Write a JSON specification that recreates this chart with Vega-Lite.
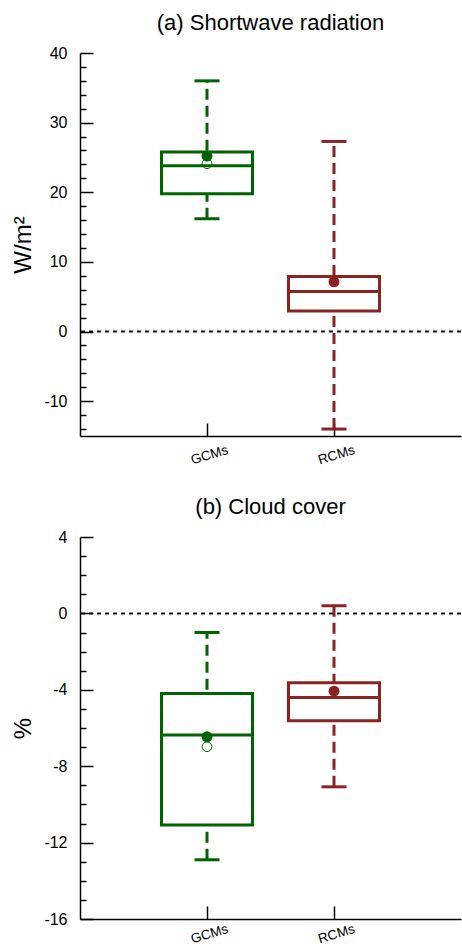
{
  "$schema": "https://vega.github.io/schema/vega-lite/v6.json",
  "padding": {"left": 11, "top": 11, "right": 0, "bottom": 0},
  "spacing": 28,
  "config": {
    "view": {"stroke": null},
    "font": "Liberation Sans",
    "title": {"fontSize": 22, "fontWeight": "normal", "color": "black", "anchor": "middle", "offset": 10.5},
    "axis": {
      "domainColor": "black", "domainWidth": 1.5, "tickColor": "black", "tickWidth": 1.5,
      "labelColor": "black", "titleColor": "black", "grid": false,
      "labelFont": "Liberation Sans", "titleFont": "Liberation Sans", "titleFontWeight": "normal"
    }
  },
  "vconcat": [
    {
      "title": "(a) Shortwave radiation",
      "width": 381,
      "height": 383,
      "data": {"values": [
        {"model": "GCMs", "lower": 16.2, "q1": 19.8, "median": 23.8, "q3": 25.8, "upper": 36.0, "mean": 25.2, "mean2": 24.1},
        {"model": "RCMs", "lower": -14.0, "q1": 2.95, "median": 5.75, "q3": 7.9, "upper": 27.3, "mean": 7.15, "mean2": null}
      ]},
      "layer": [
        {"mark": {"type": "rule", "strokeDash": [4, 4], "strokeWidth": 1.5, "color": "black"},
         "encoding": {"y": {"datum": 0, "type": "quantitative", "scale": {"domain": [-15, 40], "nice": false, "zero": false},
           "axis": {"title": "W/m²", "titleFontSize": 24, "titlePadding": 8, "labelFontSize": 16, "labelPadding": 26, "tickCount": 100,
             "values": [-14, -12, -10, -8, -6, -4, -2, 0, 2, 4, 6, 8, 10, 12, 14, 16, 18, 20, 22, 24, 26, 28, 30, 32, 34, 36, 38, 40],
             "labelExpr": "datum.value % 10 === 0 ? '' + datum.value : ''",
             "tickSize": {"condition": {"test": "datum.value % 10 === 0", "value": -13}, "value": -6}}}}},
        {"mark": {"type": "rule", "strokeDash": [11, 6], "strokeWidth": 3},
         "encoding": {
           "x": {"field": "model", "type": "nominal", "scale": {"type": "point", "padding": 1, "domain": ["GCMs", "RCMs"]},
             "axis": {"title": null, "labelAngle": -17, "labelAlign": "center", "labelBaseline": "top", "labelFontSize": 13.5, "tickSize": -13, "labelPadding": 25}},
           "y": {"field": "lower", "type": "quantitative"}, "y2": {"field": "upper"},
           "stroke": {"field": "model", "type": "nominal", "scale": {"domain": ["GCMs", "RCMs"], "range": ["#006400", "#8B2323"]}, "legend": null}}},
        {"mark": {"type": "bar", "width": 91, "fill": "white", "strokeWidth": 3},
         "encoding": {"x": {"field": "model", "type": "nominal"},
           "y": {"field": "q1", "type": "quantitative"}, "y2": {"field": "q3"},
           "stroke": {"field": "model", "type": "nominal", "scale": {"domain": ["GCMs", "RCMs"], "range": ["#006400", "#8B2323"]}, "legend": null}}},
        {"mark": {"type": "tick", "size": 91, "thickness": 3, "opacity": 1},
         "encoding": {"x": {"field": "model", "type": "nominal"},
           "y": {"field": "median", "type": "quantitative"},
           "color": {"field": "model", "type": "nominal", "scale": {"domain": ["GCMs", "RCMs"], "range": ["#006400", "#8B2323"]}, "legend": null}}},
        {"mark": {"type": "tick", "size": 25, "thickness": 3, "opacity": 1},
         "encoding": {"x": {"field": "model", "type": "nominal"},
           "y": {"field": "lower", "type": "quantitative"},
           "color": {"field": "model", "type": "nominal", "scale": {"domain": ["GCMs", "RCMs"], "range": ["#006400", "#8B2323"]}, "legend": null}}},
        {"mark": {"type": "tick", "size": 25, "thickness": 3, "opacity": 1},
         "encoding": {"x": {"field": "model", "type": "nominal"},
           "y": {"field": "upper", "type": "quantitative"},
           "color": {"field": "model", "type": "nominal", "scale": {"domain": ["GCMs", "RCMs"], "range": ["#006400", "#8B2323"]}, "legend": null}}},
        {"mark": {"type": "point", "filled": false, "size": 95, "strokeWidth": 1, "opacity": 1},
         "encoding": {"x": {"field": "model", "type": "nominal"},
           "y": {"field": "mean2", "type": "quantitative"},
           "stroke": {"field": "model", "type": "nominal", "scale": {"domain": ["GCMs", "RCMs"], "range": ["#006400", "#8B2323"]}, "legend": null}}},
        {"mark": {"type": "circle", "size": 120, "opacity": 1},
         "encoding": {"x": {"field": "model", "type": "nominal"},
           "y": {"field": "mean", "type": "quantitative"},
           "fill": {"field": "model", "type": "nominal", "scale": {"domain": ["GCMs", "RCMs"], "range": ["#006400", "#8B2323"]}, "legend": null}}}
      ]
    },
    {
      "title": "(b) Cloud cover",
      "width": 381,
      "height": 382,
      "data": {"values": [
        {"model": "GCMs", "lower": -12.9, "q1": -11.08, "median": -6.37, "q3": -4.2, "upper": -1.0, "mean": -6.46, "mean2": -6.98},
        {"model": "RCMs", "lower": -9.08, "q1": -5.62, "median": -4.4, "q3": -3.63, "upper": 0.4, "mean": -4.07, "mean2": null}
      ]},
      "layer": [
        {"mark": {"type": "rule", "strokeDash": [4, 4], "strokeWidth": 1.5, "color": "black"},
         "encoding": {"y": {"datum": 0, "type": "quantitative", "scale": {"domain": [-16, 4], "nice": false, "zero": false},
           "axis": {"title": "%", "titleFontSize": 24, "titlePadding": 8, "labelFontSize": 16, "labelPadding": 26, "tickCount": 100,
             "values": [-16, -15, -14, -13, -12, -11, -10, -9, -8, -7, -6, -5, -4, -3, -2, -1, 0, 1, 2, 3, 4],
             "labelExpr": "datum.value % 4 === 0 ? '' + datum.value : ''",
             "tickSize": {"condition": {"test": "datum.value % 4 === 0", "value": -13}, "value": -6}}}}},
        {"mark": {"type": "rule", "strokeDash": [11, 6], "strokeWidth": 3},
         "encoding": {
           "x": {"field": "model", "type": "nominal", "scale": {"type": "point", "padding": 1, "domain": ["GCMs", "RCMs"]},
             "axis": {"title": null, "labelAngle": -17, "labelAlign": "center", "labelBaseline": "top", "labelFontSize": 13.5, "tickSize": -13, "labelPadding": 21}},
           "y": {"field": "lower", "type": "quantitative"}, "y2": {"field": "upper"},
           "stroke": {"field": "model", "type": "nominal", "scale": {"domain": ["GCMs", "RCMs"], "range": ["#006400", "#8B2323"]}, "legend": null}}},
        {"mark": {"type": "bar", "width": 91, "fill": "white", "strokeWidth": 3},
         "encoding": {"x": {"field": "model", "type": "nominal"},
           "y": {"field": "q1", "type": "quantitative"}, "y2": {"field": "q3"},
           "stroke": {"field": "model", "type": "nominal", "scale": {"domain": ["GCMs", "RCMs"], "range": ["#006400", "#8B2323"]}, "legend": null}}},
        {"mark": {"type": "tick", "size": 91, "thickness": 3, "opacity": 1},
         "encoding": {"x": {"field": "model", "type": "nominal"},
           "y": {"field": "median", "type": "quantitative"},
           "color": {"field": "model", "type": "nominal", "scale": {"domain": ["GCMs", "RCMs"], "range": ["#006400", "#8B2323"]}, "legend": null}}},
        {"mark": {"type": "tick", "size": 25, "thickness": 3, "opacity": 1},
         "encoding": {"x": {"field": "model", "type": "nominal"},
           "y": {"field": "lower", "type": "quantitative"},
           "color": {"field": "model", "type": "nominal", "scale": {"domain": ["GCMs", "RCMs"], "range": ["#006400", "#8B2323"]}, "legend": null}}},
        {"mark": {"type": "tick", "size": 25, "thickness": 3, "opacity": 1},
         "encoding": {"x": {"field": "model", "type": "nominal"},
           "y": {"field": "upper", "type": "quantitative"},
           "color": {"field": "model", "type": "nominal", "scale": {"domain": ["GCMs", "RCMs"], "range": ["#006400", "#8B2323"]}, "legend": null}}},
        {"mark": {"type": "point", "filled": false, "size": 95, "strokeWidth": 1, "opacity": 1},
         "encoding": {"x": {"field": "model", "type": "nominal"},
           "y": {"field": "mean2", "type": "quantitative"},
           "stroke": {"field": "model", "type": "nominal", "scale": {"domain": ["GCMs", "RCMs"], "range": ["#006400", "#8B2323"]}, "legend": null}}},
        {"mark": {"type": "circle", "size": 120, "opacity": 1},
         "encoding": {"x": {"field": "model", "type": "nominal"},
           "y": {"field": "mean", "type": "quantitative"},
           "fill": {"field": "model", "type": "nominal", "scale": {"domain": ["GCMs", "RCMs"], "range": ["#006400", "#8B2323"]}, "legend": null}}}
      ]
    }
  ]
}
